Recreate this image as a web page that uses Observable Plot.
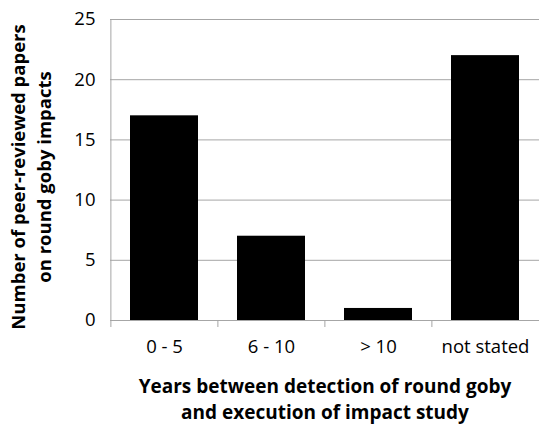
<!DOCTYPE html>
<html>
<head>
<meta charset="utf-8">
<script src="https://cdn.jsdelivr.net/npm/d3@7"></script>
<script src="https://cdn.jsdelivr.net/npm/@observablehq/plot@0.6"></script>
<style>
  html, body { margin: 0; padding: 0; background: #fff; }
</style>
</head>
<body>
<div id="chart"></div>
<script>
const categories = ["0 - 5", "6 - 10", "> 10", "not stated"];
const papers = [17, 7, 1, 22];
const yTicks = [0, 5, 10, 15, 20, 25];
const yTitleLines = ["Number of peer-reviewed papers", "on round goby impacts"];
const xTitle = "Years between detection of round goby\nand execution of impact study";

const data = categories.map((c, i) => ({category: c, value: papers[i]}));

const W = 539, H = 425, mL = 110, mR = 0, mT = 19, mB = 105;
const step = (W - mL - mR) / categories.length;
const font = "'Open Sans', sans-serif";
const gray = "#a6a6a6";

const chart = Plot.plot({
  width: W, height: H,
  marginLeft: mL, marginRight: mR, marginTop: mT, marginBottom: mB,
  style: {fontFamily: font, fontSize: "18px", color: "#000", background: "#fff"},
  x: {domain: categories, padding: 0.36, paddingOuter: 0.18, label: null},
  y: {domain: [0, 25], label: null},
  marks: [
    Plot.ruleY(yTicks, {stroke: gray, strokeWidth: 1}),
    Plot.ruleX([categories[0]], {x: d => d, dx: -step / 2, y1: 25, y2: 0, insetBottom: -7, stroke: gray}),
    Plot.ruleX(categories.slice(1), {x: d => d, dx: -step / 2, y1: 0, y2: 0, insetBottom: -7, stroke: gray}),
    Plot.barY(data, {x: "category", y: "value", fill: "#000"}),
    Plot.axisY(yTicks, {tickSize: 0, tickPadding: 15, fontSize: 18.5, label: null}),
    Plot.axisX({tickSize: 0, tickPadding: 19, fontSize: 18.5, label: null}),
    Plot.text([yTitleLines[0]], {frameAnchor: "left", dx: -91, dy: 7, rotate: -90, textAnchor: "middle", lineAnchor: "middle", fontWeight: "bold", fontSize: 18.5}),
    Plot.text([yTitleLines[1]], {frameAnchor: "left", dx: -65, dy: 7, rotate: -90, textAnchor: "middle", lineAnchor: "middle", fontWeight: "bold", fontSize: 18.5}),
    Plot.text([xTitle], {frameAnchor: "bottom", dy: 77, textAnchor: "middle", lineAnchor: "middle", lineHeight: 1.38, fontWeight: "bold", fontSize: 19})
  ]
});
document.getElementById("chart").appendChild(chart);
</script>
</body>
</html>
